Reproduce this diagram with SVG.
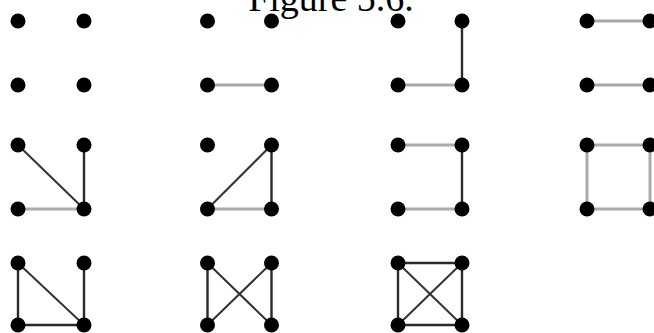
<svg xmlns="http://www.w3.org/2000/svg" width="654" height="333" viewBox="0 0 654 333">
<style>
.title{font-family:"Liberation Serif","DejaVu Serif",serif;font-size:38px;fill:#000}
.g{stroke:#aaaaaa;stroke-width:3;fill:none}
.k{stroke:#2a2a2a;stroke-width:2.4;fill:none}
.d{stroke:#333333;stroke-width:2;fill:none}
circle{fill:#000}
</style>
<rect width="654" height="333" fill="#fff"/>
<text class="title" x="331" y="11" text-anchor="middle">Figure 5.6.</text>
<g id="connectors">
<line class="g" x1="207.5" y1="85" x2="271.5" y2="85"/>
<line class="g" x1="398" y1="85" x2="462" y2="85"/>
<line class="k" x1="462" y1="21" x2="462" y2="85"/>
<line class="g" x1="587" y1="21" x2="650" y2="21"/>
<line class="g" x1="587" y1="85" x2="650" y2="85"/>
<line class="d" x1="18" y1="145" x2="84" y2="209"/>
<line class="k" x1="84" y1="145" x2="84" y2="209"/>
<line class="g" x1="18" y1="209" x2="84" y2="209"/>
<line class="d" x1="207.5" y1="209" x2="271.5" y2="145"/>
<line class="k" x1="271.5" y1="145" x2="271.5" y2="209"/>
<line class="g" x1="207.5" y1="209" x2="271.5" y2="209"/>
<line class="g" x1="398" y1="145" x2="462" y2="145"/>
<line class="k" x1="462" y1="145" x2="462" y2="209"/>
<line class="g" x1="398" y1="209" x2="462" y2="209"/>
<line class="g" x1="587" y1="145" x2="650" y2="145"/>
<line class="g" x1="587" y1="145" x2="587" y2="209"/>
<line class="g" x1="650" y1="145" x2="650" y2="209"/>
<line class="g" x1="587" y1="209" x2="650" y2="209"/>
<line class="k" x1="18" y1="263" x2="18" y2="325"/>
<line class="d" x1="18" y1="263" x2="84" y2="325"/>
<line class="k" x1="84" y1="263" x2="84" y2="325"/>
<line class="k" x1="18" y1="325" x2="84" y2="325"/>
<line class="k" x1="207.5" y1="263" x2="207.5" y2="325"/>
<line class="k" x1="271.5" y1="263" x2="271.5" y2="325"/>
<line class="d" x1="207.5" y1="263" x2="271.5" y2="325"/>
<line class="d" x1="207.5" y1="325" x2="271.5" y2="263"/>
<line class="k" x1="398" y1="263" x2="462" y2="263"/>
<line class="k" x1="398" y1="325" x2="462" y2="325"/>
<line class="k" x1="398" y1="263" x2="398" y2="325"/>
<line class="k" x1="462" y1="263" x2="462" y2="325"/>
<line class="d" x1="398" y1="263" x2="462" y2="325"/>
<line class="d" x1="398" y1="325" x2="462" y2="263"/>
</g>
<g id="g1-n1"><circle cx="18" cy="21" r="7.5"/></g>
<g id="g1-n2"><circle cx="84" cy="21" r="7.5"/></g>
<g id="g1-n3"><circle cx="18" cy="85" r="7.5"/></g>
<g id="g1-n4"><circle cx="84" cy="85" r="7.5"/></g>
<g id="g2-n1"><circle cx="207.5" cy="21" r="7.5"/></g>
<g id="g2-n2"><circle cx="271.5" cy="21" r="7.5"/></g>
<g id="g2-n3"><circle cx="207.5" cy="85" r="7.5"/></g>
<g id="g2-n4"><circle cx="271.5" cy="85" r="7.5"/></g>
<g id="g3-n1"><circle cx="398" cy="21" r="7.5"/></g>
<g id="g3-n2"><circle cx="462" cy="21" r="7.5"/></g>
<g id="g3-n3"><circle cx="398" cy="85" r="7.5"/></g>
<g id="g3-n4"><circle cx="462" cy="85" r="7.5"/></g>
<g id="g4-n1"><circle cx="587" cy="21" r="7.5"/></g>
<g id="g4-n2"><circle cx="650" cy="21" r="7.5"/></g>
<g id="g4-n3"><circle cx="587" cy="85" r="7.5"/></g>
<g id="g4-n4"><circle cx="650" cy="85" r="7.5"/></g>
<g id="g5-n1"><circle cx="18" cy="145" r="7.5"/></g>
<g id="g5-n2"><circle cx="84" cy="145" r="7.5"/></g>
<g id="g5-n3"><circle cx="18" cy="209" r="7.5"/></g>
<g id="g5-n4"><circle cx="84" cy="209" r="7.5"/></g>
<g id="g6-n1"><circle cx="207.5" cy="145" r="7.5"/></g>
<g id="g6-n2"><circle cx="271.5" cy="145" r="7.5"/></g>
<g id="g6-n3"><circle cx="207.5" cy="209" r="7.5"/></g>
<g id="g6-n4"><circle cx="271.5" cy="209" r="7.5"/></g>
<g id="g7-n1"><circle cx="398" cy="145" r="7.5"/></g>
<g id="g7-n2"><circle cx="462" cy="145" r="7.5"/></g>
<g id="g7-n3"><circle cx="398" cy="209" r="7.5"/></g>
<g id="g7-n4"><circle cx="462" cy="209" r="7.5"/></g>
<g id="g8-n1"><circle cx="587" cy="145" r="7.5"/></g>
<g id="g8-n2"><circle cx="650" cy="145" r="7.5"/></g>
<g id="g8-n3"><circle cx="587" cy="209" r="7.5"/></g>
<g id="g8-n4"><circle cx="650" cy="209" r="7.5"/></g>
<g id="g9-n1"><circle cx="18" cy="263" r="7.5"/></g>
<g id="g9-n2"><circle cx="84" cy="263" r="7.5"/></g>
<g id="g9-n3"><circle cx="18" cy="325" r="7.5"/></g>
<g id="g9-n4"><circle cx="84" cy="325" r="7.5"/></g>
<g id="g10-n1"><circle cx="207.5" cy="263" r="7.5"/></g>
<g id="g10-n2"><circle cx="271.5" cy="263" r="7.5"/></g>
<g id="g10-n3"><circle cx="207.5" cy="325" r="7.5"/></g>
<g id="g10-n4"><circle cx="271.5" cy="325" r="7.5"/></g>
<g id="g11-n1"><circle cx="398" cy="263" r="7.5"/></g>
<g id="g11-n2"><circle cx="462" cy="263" r="7.5"/></g>
<g id="g11-n3"><circle cx="398" cy="325" r="7.5"/></g>
<g id="g11-n4"><circle cx="462" cy="325" r="7.5"/></g>
</svg>
